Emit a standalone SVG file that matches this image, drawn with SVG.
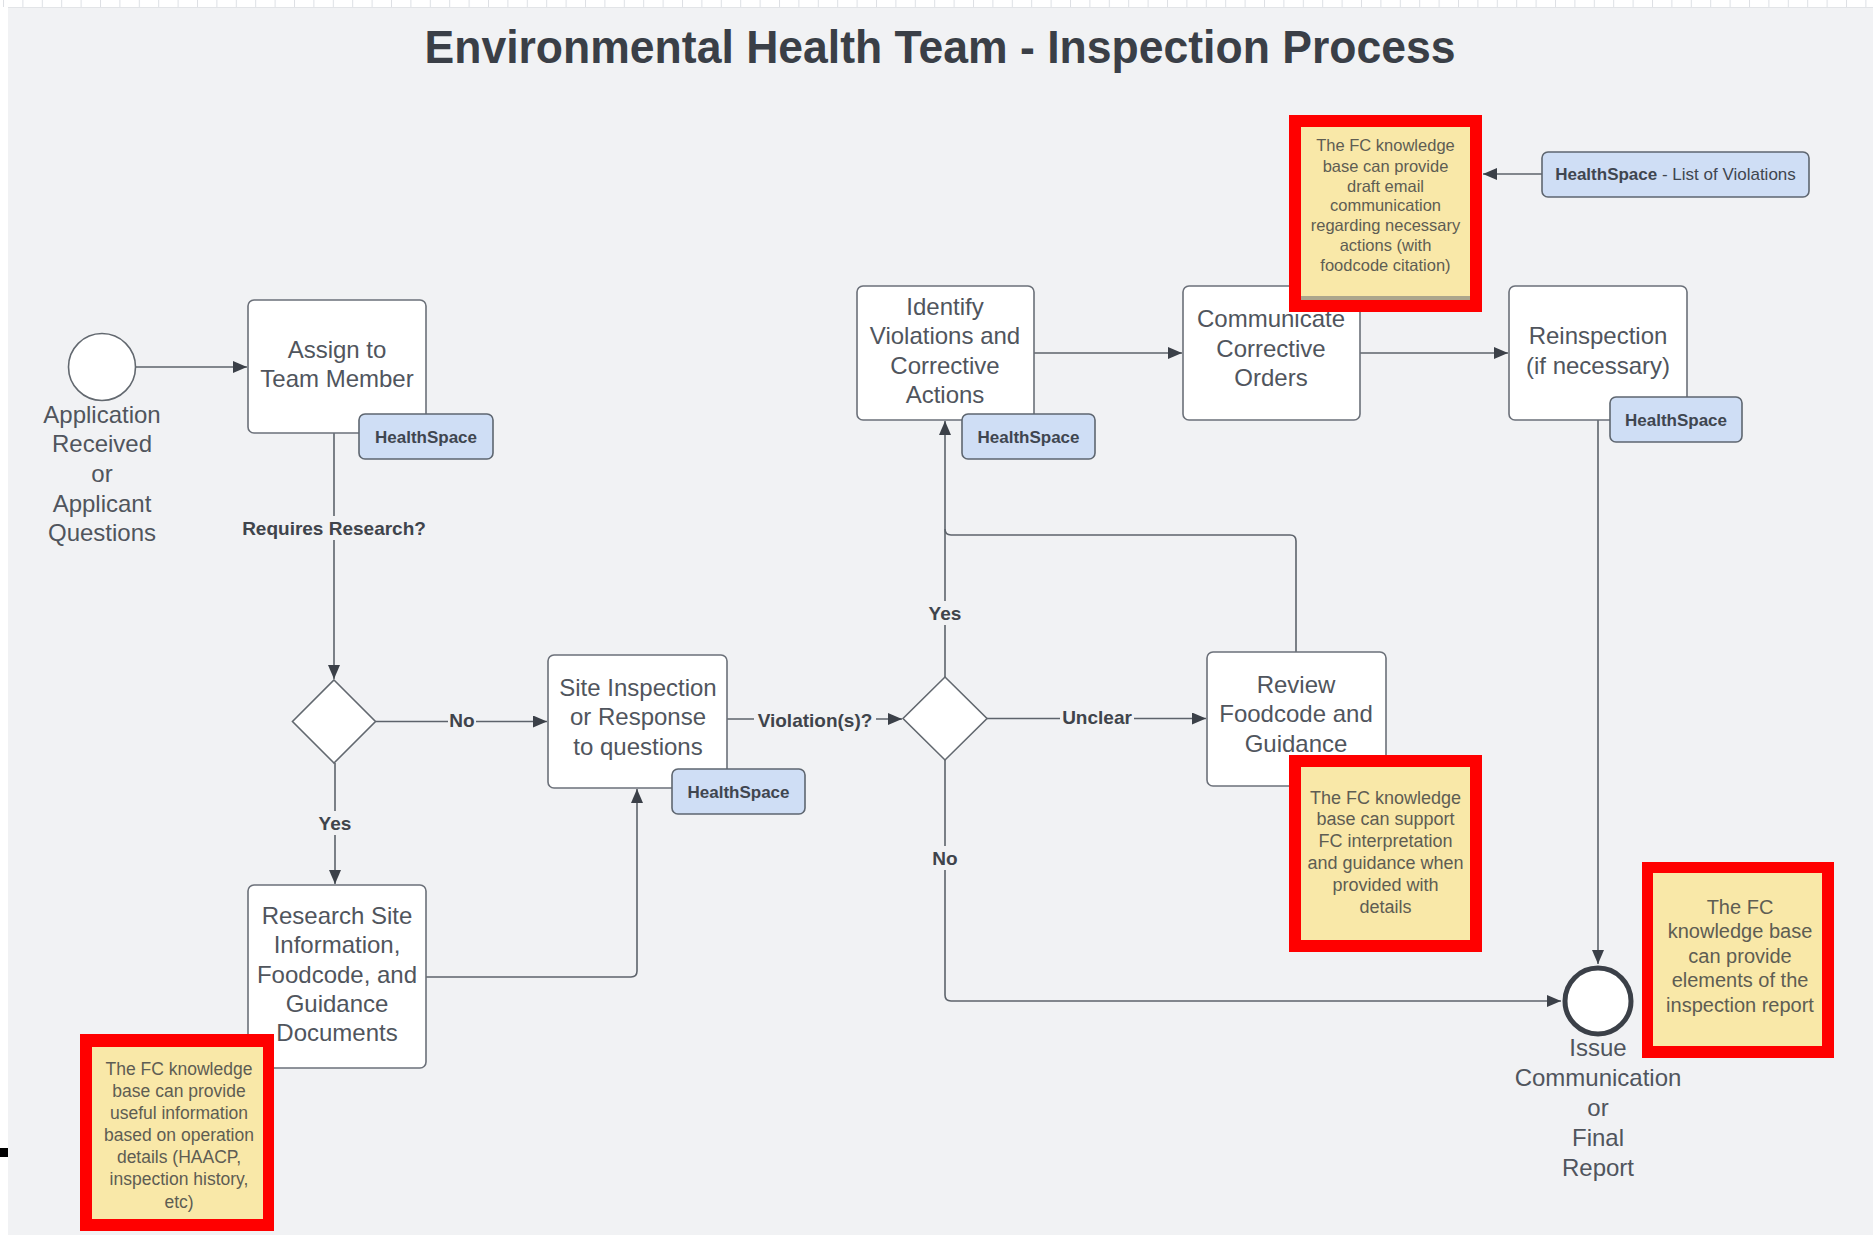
<svg xmlns="http://www.w3.org/2000/svg" width="1873" height="1235" viewBox="0 0 1873 1235">
<style>
.box{fill:#ffffff;stroke:#6b7079;stroke-width:1.6}
.dia{fill:#ffffff;stroke:#62686f;stroke-width:1.6}
.tag{fill:#cfdef5;stroke:#5e6670;stroke-width:1.6}
.tagt{font-family:"Liberation Sans",Arial,sans-serif;font-size:17px;font-weight:bold;fill:#3f4650;text-anchor:middle}
.nt{font-family:"Liberation Sans",Arial,sans-serif;font-size:24px;fill:#50555d;text-anchor:middle}
.lbl{font-family:"Liberation Sans",Arial,sans-serif;font-size:19px;font-weight:bold;fill:#3f444b;text-anchor:middle}
.lblbg{fill:#f1f2f4}
.con{fill:none;stroke:#5d636b;stroke-width:1.6}
.red{fill:#ff0000}
.note{fill:#f9e8a8}
.st{font-family:"Liberation Sans",Arial,sans-serif;fill:#5e5d53;text-anchor:middle}
</style>
<defs>
<marker id="ah" markerUnits="userSpaceOnUse" markerWidth="16" markerHeight="12" refX="14" refY="6" orient="auto">
<path d="M0,0 L14,6 L0,12 z" fill="#3b4048"/>
</marker>
<pattern id="grid" x="3" y="0" width="19.4" height="8" patternUnits="userSpaceOnUse">
<rect x="0" y="0" width="1" height="8" fill="#dde0e4"/>
</pattern>
</defs>
<rect x="0" y="0" width="1873" height="1235" fill="#ffffff"/>
<rect x="0" y="0" width="1873" height="7" fill="url(#grid)"/>
<rect x="8" y="7" width="1865" height="1228" fill="#f1f2f4"/>
<line x1="8" y1="7.5" x2="1873" y2="7.5" stroke="#e2e4e7" stroke-width="1"/>
<rect x="0" y="1148" width="8" height="9" fill="#000000"/>

<text x="940" y="63" font-family="'Liberation Sans',Arial,sans-serif" font-size="46" font-weight="bold" fill="#3a3f47" text-anchor="middle" textLength="1031" lengthAdjust="spacingAndGlyphs">Environmental Health Team - Inspection Process</text>

<g id="connectors">
<path class="con" d="M136,367 H247" marker-end="url(#ah)"/>
<path class="con" d="M334,433 V679" marker-end="url(#ah)"/>
<path class="con" d="M375.5,721.5 H547" marker-end="url(#ah)"/>
<path class="con" d="M335,763 V884" marker-end="url(#ah)"/>
<path class="con" d="M426,977 H631 Q637,977 637,971 V789" marker-end="url(#ah)"/>
<path class="con" d="M727,719 H902" marker-end="url(#ah)"/>
<path class="con" d="M987,718.5 H1206" marker-end="url(#ah)"/>
<path class="con" d="M945,677 V421" marker-end="url(#ah)"/>
<path class="con" d="M1296,652 V541 Q1296,535 1290,535 H951 Q945,535 945,529"/>
<path class="con" d="M945,760 V995 Q945,1001 951,1001 H1561" marker-end="url(#ah)"/>
<path class="con" d="M1034,353 H1182" marker-end="url(#ah)"/>
<path class="con" d="M1360,353 H1508" marker-end="url(#ah)"/>
<path class="con" d="M1598,420 V964" marker-end="url(#ah)"/>
<path class="con" d="M1542,174 H1483" marker-end="url(#ah)"/>

<rect class="lblbg" x="236" y="516" width="196" height="24"/>
<text class="lbl" x="334" y="535">Requires Research?</text>
<rect class="lblbg" x="448" y="709" width="28" height="24"/>
<text class="lbl" x="462" y="727">No</text>
<rect class="lblbg" x="754" y="708" width="122" height="24"/>
<text class="lbl" x="815" y="727">Violation(s)?</text>
<rect class="lblbg" x="317" y="811" width="36" height="24"/>
<text class="lbl" x="335" y="830">Yes</text>
<rect class="lblbg" x="1060" y="706" width="74" height="24"/>
<text class="lbl" x="1097" y="724">Unclear</text>
<rect class="lblbg" x="927" y="601" width="36" height="24"/>
<text class="lbl" x="945" y="620">Yes</text>
<rect class="lblbg" x="931" y="846" width="28" height="24"/>
<text class="lbl" x="945" y="865">No</text>
</g>

<g id="start">
<circle cx="102" cy="367" r="33.5" fill="#ffffff" stroke="#62686f" stroke-width="1.6"/>
<text class="nt"><tspan x="102" y="423">Application</tspan><tspan x="102" y="452">Received</tspan><tspan x="102" y="482">or</tspan><tspan x="102" y="512">Applicant</tspan><tspan x="102" y="541">Questions</tspan></text>
</g>

<g id="assign">
<rect class="box" x="248" y="300" width="178" height="133" rx="6"/>
<text class="nt"><tspan x="337" y="358">Assign to</tspan><tspan x="337" y="387">Team Member</tspan></text>
<rect class="tag" x="359" y="414" width="134" height="45" rx="6"/>
<text class="tagt" x="426" y="442.5">HealthSpace</text>
</g>

<g id="decision1">
<path class="dia" d="M334,680 L375.5,721.5 L334,763 L292.5,721.5 Z"/>
</g>

<g id="research">
<rect class="box" x="248" y="885" width="178" height="183" rx="6"/>
<text class="nt"><tspan x="337" y="924">Research Site</tspan><tspan x="337" y="953">Information,</tspan><tspan x="337" y="983">Foodcode, and</tspan><tspan x="337" y="1012">Guidance</tspan><tspan x="337" y="1041">Documents</tspan></text>
</g>

<g id="site">
<rect class="box" x="548" y="655" width="179" height="133" rx="6"/>
<text class="nt"><tspan x="638" y="696">Site Inspection</tspan><tspan x="638" y="725">or Response</tspan><tspan x="638" y="755">to questions</tspan></text>
<rect class="tag" x="672" y="769" width="133" height="45" rx="6"/>
<text class="tagt" x="738.5" y="797.5">HealthSpace</text>
</g>

<g id="decision2">
<path class="dia" d="M945,677 L987,718.5 L945,760 L903,718.5 Z"/>
</g>

<g id="review">
<rect class="box" x="1207" y="652" width="179" height="134" rx="6"/>
<text class="nt"><tspan x="1296" y="693">Review</tspan><tspan x="1296" y="722">Foodcode and</tspan><tspan x="1296" y="752">Guidance</tspan></text>
</g>

<g id="identify">
<rect class="box" x="857" y="286" width="177" height="134" rx="6"/>
<text class="nt"><tspan x="945" y="315">Identify</tspan><tspan x="945" y="344">Violations and</tspan><tspan x="945" y="374">Corrective</tspan><tspan x="945" y="403">Actions</tspan></text>
<rect class="tag" x="962" y="414" width="133" height="45" rx="6"/>
<text class="tagt" x="1028.5" y="442.5">HealthSpace</text>
</g>

<g id="communicate">
<rect class="box" x="1183" y="286" width="177" height="134" rx="6"/>
<text class="nt"><tspan x="1271" y="327">Communicate</tspan><tspan x="1271" y="357">Corrective</tspan><tspan x="1271" y="386">Orders</tspan></text>
</g>

<g id="reinspection">
<rect class="box" x="1509" y="286" width="178" height="134" rx="6"/>
<text class="nt"><tspan x="1598" y="344">Reinspection</tspan><tspan x="1598" y="374">(if necessary)</tspan></text>
<rect class="tag" x="1610" y="397" width="132" height="45" rx="6"/>
<text class="tagt" x="1676" y="425.5">HealthSpace</text>
</g>

<g id="list-of-violations">
<rect class="tag" x="1542" y="152" width="267" height="45" rx="6"/>
<text x="1675.5" y="180" font-family="'Liberation Sans',Arial,sans-serif" font-size="17" fill="#3f4650" text-anchor="middle"><tspan font-weight="bold">HealthSpace</tspan> - List of Violations</text>
</g>

<g id="end">
<circle cx="1598" cy="1001" r="33" fill="#ffffff" stroke="#3b4048" stroke-width="5"/>
<text class="nt"><tspan x="1598" y="1056">Issue</tspan><tspan x="1598" y="1086">Communication</tspan><tspan x="1598" y="1116">or</tspan><tspan x="1598" y="1146">Final</tspan><tspan x="1598" y="1176">Report</tspan></text>
</g>

<g id="note-email">
<rect class="red" x="1289" y="115" width="193" height="197"/>
<rect class="note" x="1301" y="127" width="169" height="173"/>
<rect x="1301" y="296" width="169" height="4" fill="#8c8a80" opacity="0.7"/>
<text class="st" font-size="16.5"><tspan x="1385.5" y="151">The FC knowledge</tspan><tspan x="1385.5" y="172">base can provide</tspan><tspan x="1385.5" y="192">draft email</tspan><tspan x="1385.5" y="211">communication</tspan><tspan x="1385.5" y="231">regarding necessary</tspan><tspan x="1385.5" y="251">actions (with</tspan><tspan x="1385.5" y="271">foodcode citation)</tspan></text>
</g>

<g id="note-guidance">
<rect class="red" x="1289" y="755" width="193" height="197"/>
<rect class="note" x="1301" y="767" width="169" height="173"/>
<text class="st" font-size="18"><tspan x="1385.5" y="803.5">The FC knowledge</tspan><tspan x="1385.5" y="825">base can support</tspan><tspan x="1385.5" y="847">FC interpretation</tspan><tspan x="1385.5" y="869">and guidance when</tspan><tspan x="1385.5" y="891">provided with</tspan><tspan x="1385.5" y="913">details</tspan></text>
</g>

<g id="note-research">
<rect class="red" x="80" y="1034" width="194" height="197"/>
<rect class="note" x="92" y="1047" width="171" height="172"/>
<text class="st" font-size="17.5"><tspan x="179" y="1075">The FC knowledge</tspan><tspan x="179" y="1097">base can provide</tspan><tspan x="179" y="1119">useful information</tspan><tspan x="179" y="1141">based on operation</tspan><tspan x="179" y="1163">details (HAACP,</tspan><tspan x="179" y="1185">inspection history,</tspan><tspan x="179" y="1208">etc)</tspan></text>
</g>

<g id="note-report">
<rect class="red" x="1642" y="862" width="192" height="196"/>
<rect class="note" x="1653" y="873" width="169" height="173"/>
<text class="st" font-size="20"><tspan x="1740" y="914">The FC</tspan><tspan x="1740" y="938">knowledge base</tspan><tspan x="1740" y="963">can provide</tspan><tspan x="1740" y="987">elements of the</tspan><tspan x="1740" y="1012">inspection report</tspan></text>
</g>
</svg>
